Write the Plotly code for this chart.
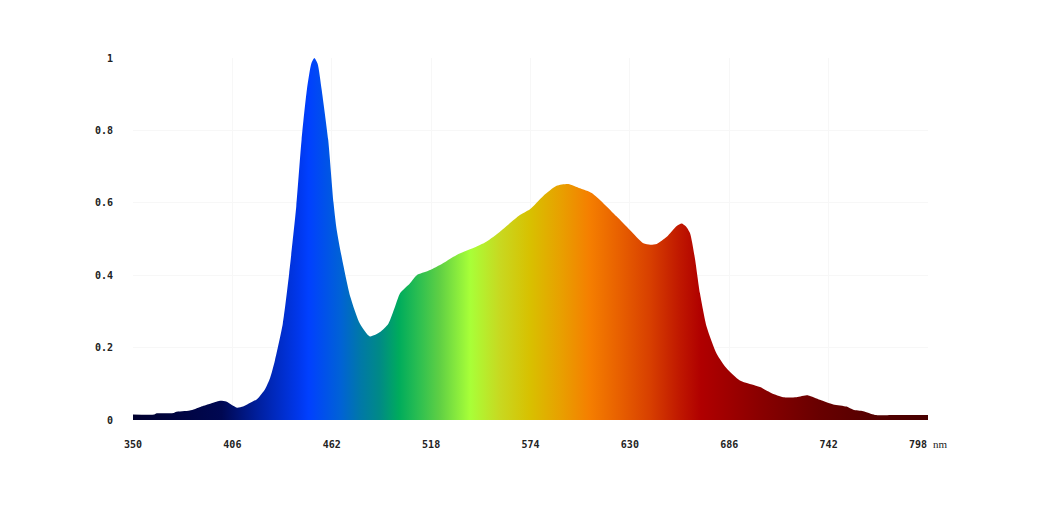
import plotly.graph_objects as go

# Spectrum data (wavelength in nm, relative intensity)
wavelength = [350, 362, 363, 373, 374, 382, 388, 393, 399, 402.5, 405.5, 408.6, 412, 415, 420, 424.4, 427.2, 430, 434.4,
              438, 442, 445, 448, 450.5, 452.2, 454, 456.3, 460, 463, 464.8, 468.3, 472.5, 477.9,
              483.5, 489.2, 493.9, 497.6, 500.5, 506, 509.9, 516.4, 523, 532.4, 543.7, 549.3, 556.8,
              568, 573.7, 581.2, 588.7, 595.3, 601.9, 608.5, 615, 622.6, 630, 637.6, 641.5, 645.1, 650.8,
              656.4, 659.2, 661.5, 663.9, 666.7, 669.5, 673.3, 678.9, 684.6, 692, 703.3, 709.9,
              716.4, 723.9, 730.5, 737.1, 744.6, 752.2, 755.9, 761.5, 768.1, 780, 798]
intensity = [0.015, 0.015, 0.018, 0.019, 0.022, 0.026, 0.036, 0.044, 0.053, 0.051, 0.042, 0.034, 0.037, 0.045, 0.058, 0.085, 0.115, 0.165, 0.266,
             0.405, 0.59, 0.774, 0.913, 0.985, 1.0, 0.985, 0.913, 0.774, 0.6, 0.525, 0.433, 0.34, 0.266,
             0.231, 0.243, 0.266, 0.312, 0.35, 0.377, 0.4, 0.412, 0.428, 0.456, 0.479, 0.493, 0.52,
             0.566, 0.582, 0.619, 0.647, 0.652, 0.64, 0.627, 0.599, 0.562, 0.525, 0.488, 0.484, 0.486, 0.506,
             0.536, 0.543, 0.535, 0.516, 0.445, 0.35, 0.257, 0.183, 0.142, 0.109, 0.091, 0.074,
             0.063, 0.063, 0.068, 0.056, 0.043, 0.037, 0.028, 0.024, 0.014, 0.014, 0.014]

x_ticks = [350, 406, 462, 518, 574, 630, 686, 742, 798]
x_labels = ["350", "406", "462", "518", "574", "630", "686", "742",
            "798 <span style='font-family:Liberation Serif;font-weight:normal;font-size:11px'>nm</span>"]
y_ticks = [0, 0.2, 0.4, 0.6, 0.8, 1]
y_labels = ["0", "0.2", "0.4", "0.6", "0.8", "1"]

# spectral colour stops (nm, colour)
color_nm = [350, 400, 421, 444, 449, 467, 478, 489, 500, 512, 523, 540, 557, 574, 591, 607, 624, 641, 658, 670, 703, 737, 771, 798]
color_hex = ["#00002e", "#000852", "#0020a0", "#0038ee", "#0040ff", "#0062d6", "#0078a8", "#008a86", "#00ac5c",
             "#30c050", "#60d044", "#a8ff38", "#c8d820", "#d8c000", "#e8a000", "#f57f00", "#e86000", "#d84000",
             "#c01800", "#b00000", "#8a0000", "#680000", "#520000", "#480000"]

x0, x1 = color_nm[0], color_nm[-1]
colorscale = [[(n - x0) / (x1 - x0), c] for n, c in zip(color_nm, color_hex)]

fig = go.Figure()
fig.add_trace(go.Scatter(
    x=wavelength, y=intensity,
    mode="lines",
    line=dict(width=0, shape="spline", smoothing=0.6),
    fill="tozeroy",
    fillgradient=dict(type="horizontal", colorscale=colorscale, start=x0, stop=x1),
    hoverinfo="skip",
    showlegend=False,
))

tickfont = dict(family="DejaVu Sans Mono", size=10, color="#222222", weight="bold")
fig.update_layout(
    width=1060, height=515,
    margin=dict(l=125, r=140, t=50, b=103),
    paper_bgcolor="white", plot_bgcolor="white",
    xaxis=dict(range=[350, 798], tickvals=x_ticks, ticktext=x_labels, showgrid=True,
               gridcolor="#f7f7f7", gridwidth=1, zeroline=False, showline=False,
               tickfont=tickfont, ticks="", ticklabelstandoff=17, fixedrange=True),
    yaxis=dict(range=[0, 1.0], tickvals=y_ticks, ticktext=y_labels, showgrid=True,
               gridcolor="#f7f7f7", gridwidth=1, zeroline=False, showline=False,
               tickfont=tickfont, ticks="", ticklabelstandoff=19, fixedrange=True),
)

fig.write_html("out.html")
